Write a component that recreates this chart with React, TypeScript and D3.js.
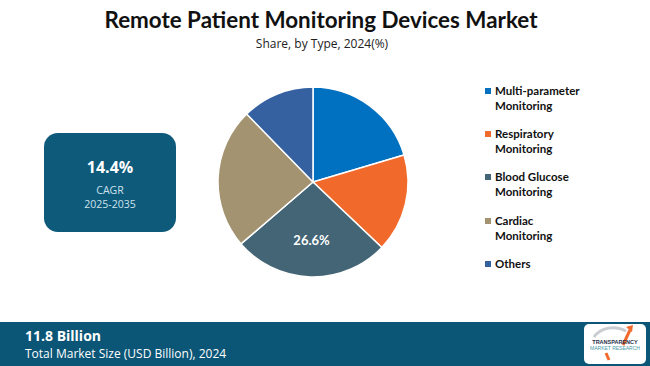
import React from 'react';
import * as d3 from 'd3';

// Share by type, 2024 (%)
const categories = ['Multi-parameter Monitoring', 'Respiratory Monitoring', 'Blood Glucose Monitoring', 'Cardiac Monitoring', 'Others'];
const shares = [20.4, 16.7, 26.6, 24.0, 12.3];
const colors = ['#0070C0', '#F26A2B', '#436575', '#A39371', '#3561A1'];
const legendLines = [['Multi-parameter', 'Monitoring'], ['Respiratory', 'Monitoring'], ['Blood Glucose', 'Monitoring'], ['Cardiac', 'Monitoring'], ['Others']];
const labelled = ['Blood Glucose Monitoring'];

const title = 'Remote Patient Monitoring Devices Market';
const subtitle = 'Share, by Type, 2024(%)';
const cagr = '14.4%';
const cagrPeriod = '2025-2035';
const marketSize = '11.8 Billion';
const marketLabel = 'Total Market Size (USD Billion), 2024';

const W = 650;
const H = 366;

const App = () => {
  const cx = 313;
  const cy = 182;
  const r = 95;

  const pie = d3.pie<number>().sort(null).value(d => d);
  const arcs = pie(shares);
  const arc = d3.arc<d3.PieArcDatum<number>>().innerRadius(0).outerRadius(r);
  const labelArc = d3.arc<d3.PieArcDatum<number>>().innerRadius(r * 0.62).outerRadius(r * 0.62);

  const legendY = [95, 138, 181, 225, 268];

  return (
    <div style={{ position: 'fixed', left: 0, top: 0, width: W, height: H, overflow: 'hidden' }}>
      <svg width={W} height={H} style={{ display: 'block', background: '#fff' }}>
        {/* titles */}
        <text x={321} y={28} textAnchor="middle" fontFamily="Lato" fontWeight={700} fontSize={22.4} fill="#111">{title}</text>
        <text x={322} y={48} textAnchor="middle" fontFamily="Open Sans" fontSize={12} fill="#222">{subtitle}</text>

        {/* CAGR box */}
        <rect x={44} y={133} width={132} height={99} rx={14} fill="#0D5A7B" />
        <text x={110} y={173} textAnchor="middle" fontFamily="Open Sans" fontWeight={700} fontSize={16} fill="#fff">{cagr}</text>
        <text x={110} y={194} textAnchor="middle" fontFamily="Open Sans" fontSize={10.5} fill="#cfe2ec">CAGR</text>
        <text x={110} y={207.5} textAnchor="middle" fontFamily="Open Sans" fontSize={10.5} fill="#cfe2ec">{cagrPeriod}</text>

        {/* pie */}
        <g transform={`translate(${cx},${cy})`}>
          {arcs.map((a, i) => (
            <path key={categories[i]} d={arc(a) || ''} fill={colors[i]} stroke="#fff" strokeWidth={1.5} />
          ))}
          {arcs.map((a, i) => {
            if (!labelled.includes(categories[i])) return null;
            const [lx, ly] = labelArc.centroid(a);
            return (
              <text key={'l' + i} x={lx} y={ly} dy="0.35em" textAnchor="middle" fontFamily="Lato" fontWeight={700} fontSize={13} fill="#fff">
                {shares[i].toFixed(1)}%
              </text>
            );
          })}
        </g>

        {/* legend */}
        {legendLines.map((lines, i) => (
          <g key={categories[i]}>
            <rect x={485} y={legendY[i] - 7} width={6} height={6} fill={colors[i]} />
            {lines.map((t, j) => (
              <text key={t} x={495} y={legendY[i] + j * 14.5} fontFamily="Lato" fontWeight={700} fontSize={11.5} fill="#111">{t}</text>
            ))}
          </g>
        ))}

        {/* bottom band */}
        <rect x={0} y={322} width={W} height={H - 322} fill="#0B5576" />
        <text x={25} y={341} fontFamily="Open Sans" fontWeight={700} fontSize={14} fill="#fff">{marketSize}</text>
        <text x={25} y={358} fontFamily="Open Sans" fontSize={12} fill="#fff">{marketLabel}</text>

        {/* logo */}
        <g>
          <rect x={584} y={324} width={62} height={40} rx={5} fill="#fff" />
          <path d="M594,337 A22,18 0 0 1 626,331" fill="none" stroke="#c9cdd2" strokeWidth={3} />
          <path d="M623,345 L630,330" stroke="#F26A2B" strokeWidth={3} />
          <path d="M626,327 L633,325 L632,332 Z" fill="#F26A2B" />
          <path d="M606,353 L609,360" stroke="#F26A2B" strokeWidth={3} />
          <text x={615} y={344} textAnchor="middle" fontFamily="Liberation Sans" fontWeight={700} fontSize={5.5} fill="#1f2f4a">TRANSPARENCY</text>
          <text x={615} y={350} textAnchor="middle" fontFamily="Liberation Sans" fontSize={5} fill="#4a9aa8">MARKET RESEARCH</text>
        </g>
      </svg>
    </div>
  );
};

export default App;
